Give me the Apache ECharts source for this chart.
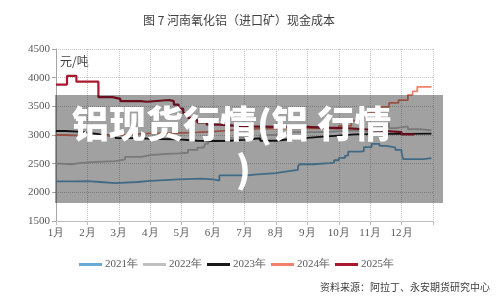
<!DOCTYPE html>
<html><head><meta charset="utf-8">
<script src="https://cdn.jsdelivr.net/npm/echarts@6/dist/echarts.min.js"></script>
<style>html,body{margin:0;padding:0;background:#fff}#c{width:500px;height:300px}</style>
</head><body><div id="c"></div>
<script>
const monthLabels = ['1月','2月','3月','4月','5月','6月','7月','8月','9月','10月','11月','12月'];
const seriesNames = ['2021年','2022年','2023年','2024年','2025年'];
// x = month position (0 = 1月 start), v = 元/吨
const x2021 = [0,0.6,1.0,1.4,1.9,2.6,3.0,3.9,4.6,5.0,5.2,6.1,6.3,7.0,7.3,7.7,7.75,8.2,8.7,8.85,9.0,9.2,9.3,9.7,9.8,10.05,10.3,10.5,10.8,11.0,11.05,11.7,11.95];
const v2021 = [2190,2195,2180,2160,2180,2200,2225,2238,2225,2205,2297,2310,2335,2360,2390,2448,2490,2510,2520,2560,2600,2640,2710,2720,2790,2845,2810,2785,2740,2690,2580,2595,2600];
const x2022 = [0,0.15,0.5,0.8,1.3,1.9,2.2,2.7,3.0,3.5,3.9,4.2,4.5,4.7,4.75,4.85,5.5,6.5,7.5,8.5,9.5,10.0,10.2,10.4,10.6,10.8,11.2,11.6,11.95];
const v2022 = [2500,2490,2515,2530,2545,2575,2620,2650,2670,2680,2690,2740,2780,2800,2850,2900,2950,3000,3050,3080,3050,3060,3130,3200,3120,3150,3100,3080,3080];
const x2023 = [0,0.3,0.7,1.0,1.4,1.9,2.5,3.3,3.9,4.5,5.0,5.5,6.0,6.5,7.0,7.5,8.0,8.5,9.0,9.5,10.5,11.0,11.95];
const v2023 = [3070,3060,3040,3010,2980,2945,2930,2925,2900,2895,2900,2915,2940,2900,2930,2950,2970,2990,3010,3020,3020,3025,3030];
const x2024 = [0,0.3,0.8,1.3,2.0,3.0,3.5,4.5,5.0,5.5,6.5,7.5,8.5,9.0,9.4,9.8,10.2,10.6,10.9,11.2,11.35,11.5,11.95];
const v2024 = [3000,2990,2985,3000,3030,3030,3045,3060,3080,3110,3115,3120,3110,3160,3250,3380,3490,3560,3610,3700,3760,3840,3840];
const x2025 = [0,0.35,0.65,1.35,1.8,2.05,2.7,2.9,3.6,3.75,3.9,4.05,4.2,4.35,4.5,4.8,5.2,6.0,7.0,8.0,8.5,9.2,9.8,10.5,11.0,11.4];
const v2025 = [3880,4030,3930,3660,3630,3590,3580,3610,3590,3530,3460,3380,3300,3260,3220,3180,3150,3140,3140,3130,3120,3100,3070,3050,3010,3000];
const colors = ['#6aa9d3','#c0c0c0','#1a1a1a','#f1806e','#a8192f'];

const xs = [x2021,x2022,x2023,x2024,x2025];
const vs = [v2021,v2022,v2023,v2024,v2025];
const serif = '"Liberation Serif", "DejaVu Serif", serif';
const chart = echarts.init(document.getElementById('c'), null, {renderer:'canvas'});
chart.setOption({
  animation:false,
  color: colors,
  title:{text:'图 7 河南氧化铝（进口矿）现金成本', left:138, top:9,
    textStyle:{fontSize:12, fontWeight:'normal', color:'#404040', fontFamily:'Noto Sans CJK SC'}},
  grid:{left:56, right:67, top:49, bottom:79},
  legend:{top:254, left:74, itemWidth:23, itemHeight:3, itemGap:5, icon:'rect',
    textStyle:{fontFamily:serif, fontSize:11, color:'#595959', padding:[0,0,0,-2]},
    data: seriesNames},
  xAxis:{type:'value', min:0, max:12, interval:1,
    axisLine:{lineStyle:{color:'#bfbfbf'}},
    axisTick:{show:true, length:4, lineStyle:{color:'#bfbfbf'}},
    axisLabel:{fontFamily:serif, fontSize:11, color:'#595959', margin:7,
      formatter:v=> v<12 ? monthLabels[v] : ''},
    splitLine:{show:true, lineStyle:{type:'dotted', color:'#c8c8c8'}}},
  yAxis:{type:'value', min:1500, max:4500, interval:500,
    axisLine:{show:true, lineStyle:{color:'#a6a6a6'}},
    axisTick:{show:true, length:4, lineStyle:{color:'#a6a6a6'}},
    axisLabel:{fontFamily:serif, fontSize:11, color:'#595959', margin:6, formatter:v=>String(v)},
    splitLine:{show:true, lineStyle:{type:'dotted', color:'#c8c8c8'}}},
  graphic:[
    {type:'text', left:60, top:55, style:{text:'元/吨', fontSize:12, fill:'#404040', fontFamily:'Noto Sans CJK SC'}},
    {type:'text', right:10, top:282, style:{text:'资料来源：阿拉丁、永安期货研究中心', fontSize:10, fill:'#404040', fontFamily:'Noto Sans CJK SC'}},
    {type:'rect', shape:{x:55, y:95, width:388, height:108}, style:{fill:'rgba(0,0,0,0.37)'}, z:100},
    {type:'text', x:72, y:105, z:101, style:{text:'铝现货行情(铝 行情', fontSize:37, fontWeight:900, fill:'#ffffff', fontFamily:'Noto Sans CJK SC'}},
    {type:'text', x:236, y:150, z:101, style:{text:')', fontSize:37, fontWeight:900, fill:'#ffffff', fontFamily:'Noto Sans CJK SC'}}
  ],
  series: seriesNames.map((n,i)=>({
    name:n, type:'line', step:'end', showSymbol:false,
    lineStyle:{width: i===4 ? 2.2 : 1.8, color: colors[i]},
    data: xs[i].map((x,j)=>[x, vs[i][j]])
  }))
});
</script></body></html>
